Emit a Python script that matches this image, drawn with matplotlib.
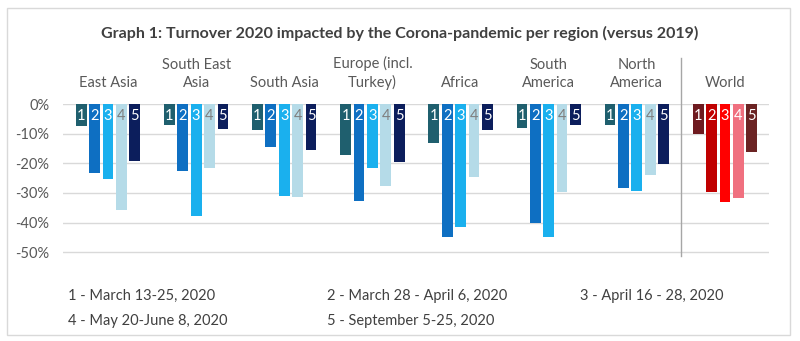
import numpy as np
import matplotlib.pyplot as plt
from matplotlib.patches import Rectangle

plt.rcParams['font.family'] = ['Lato', 'DejaVu Sans']

regions = ['East Asia', 'South East\nAsia', 'South Asia', 'Europe (incl.\nTurkey)',
           'Africa', 'South\nAmerica', 'North\nAmerica', 'World']

# turnover change vs 2019 per survey wave (1..5)
wave1 = [-7.4, -7.1, -8.6, -17.2, -13.0, -8.0, -7.1, -10.2]
wave2 = [-23.3, -22.5, -14.6, -32.8, -44.7, -40.2, -28.2, -29.5]
wave3 = [-25.2, -37.9, -31.1, -21.4, -41.4, -44.7, -29.2, -33.1]
wave4 = [-35.7, -21.6, -31.4, -27.5, -24.6, -29.7, -23.8, -31.6]
wave5 = [-19.1, -8.5, -15.6, -19.7, -8.8, -6.9, -20.2, -16.0]
waves = [wave1, wave2, wave3, wave4, wave5]

legend_labels = ['1 - March 13-25, 2020', '2 - March 28 - April 6, 2020',
                 '3 - April 16 - 28, 2020', '4 - May 20-June 8, 2020',
                 '5 - September 5-25, 2020']

blues = ['#1f5f6e', '#0e6fc2', '#1ab0ee', '#b5dbe8', '#0c1e5c']
reds = ['#6e1a1f', '#c00000', '#ff0000', '#f0707f', '#6b2323']
num_blue = ['white', 'white', 'white', '#7f7f7f', 'white']
num_red = ['white', 'white', 'white', 'white', 'white']

fig = plt.figure(figsize=(8, 3.41), dpi=100)
ax = fig.add_axes([0.0788, 0.249, 0.8825, 0.4457])

x = np.arange(len(regions))
pitch = 0.152
width = 0.122
for i, vals in enumerate(waves):
    pos = x + (i - 2) * pitch
    cols = [blues[i]] * (len(regions) - 1) + [reds[i]]
    ax.bar(pos, np.array(vals) / 100, width=width, color=cols, zorder=3)
    for j, p in enumerate(pos):
        tc = num_red[i] if j == len(regions) - 1 else num_blue[i]
        ax.text(p, -0.041, str(i + 1), ha='center', va='center',
                fontsize=10.5, color=tc, zorder=4)

ax.set_xlim(-0.51, 7.5)
ax.set_ylim(-0.513, 0.0)
ax.set_yticks([0, -0.1, -0.2, -0.3, -0.4, -0.5])
ax.set_yticklabels(['0%', '-10%', '-20%', '-30%', '-40%', '-50%'])
ax.tick_params(axis='y', length=0, labelsize=10.5, labelcolor='#595959', pad=10)
ax.set_xticks([])
ax.grid(axis='y', color='#d9d9d9', linewidth=1, zorder=0)
for s in ax.spines.values():
    s.set_visible(False)

# separator between regions and world
ax.plot([6.5, 6.5], [-0.513, 0.155], color='#a6a6a6', linewidth=1,
        clip_on=False, zorder=2)

# region labels above the plot
for xi, name in zip(x, regions):
    ax.text(xi, 0.048, name, ha='center', va='bottom', fontsize=10.5,
            color='#595959', linespacing=1.35, clip_on=False)

fig.text(0.5, 0.903, 'Graph 1: Turnover 2020 impacted by the Corona-pandemic per region (versus 2019)',
         ha='center', va='center', fontsize=11.5, fontweight='bold', color='#404040')

# legend as plain text lines
leg_x = [68, 327, 580, 68, 327]
leg_y = [296, 296, 296, 321, 321]
for lab, lx, ly in zip(legend_labels, leg_x, leg_y):
    fig.text(lx / 800, 1 - ly / 341, lab, ha='left', va='center',
             fontsize=10.5, color='#404040')

fig.patches.append(Rectangle((7 / 800, 1 - 335 / 341), 783 / 800, 327 / 341,
                             transform=fig.transFigure, fill=False,
                             edgecolor='#d9d9d9', linewidth=1))

fig.savefig('out.png', dpi=100)
